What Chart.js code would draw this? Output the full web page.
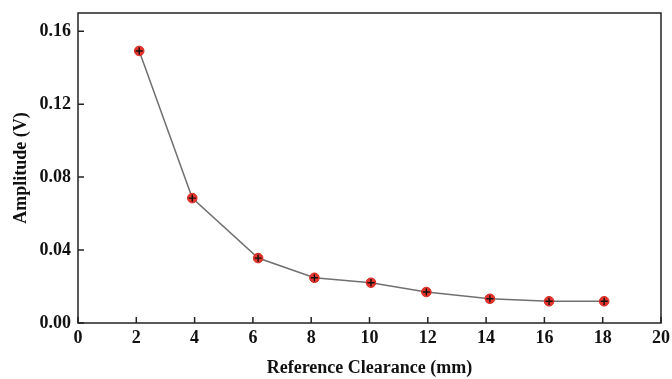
<!DOCTYPE html>
<html><head><meta charset="utf-8">
<script src="https://cdn.jsdelivr.net/npm/chart.js@4/dist/chart.umd.min.js"></script>
<style>html,body{margin:0;padding:0;background:#fff}#wrap{width:672px;height:379px}</style>
</head><body><div id="wrap"><canvas id="c" width="672" height="379"></canvas></div>
<script>
const clearance = [2.1, 3.92, 6.18, 8.11, 10.05, 11.95, 14.13, 16.16, 18.05];
const amplitude = [0.1492, 0.0685, 0.0356, 0.0248, 0.0221, 0.0170, 0.0133, 0.0119, 0.0119];
const xTicks = [0, 2, 4, 6, 8, 10, 12, 14, 16, 18, 20];
const yTicks = [0.00, 0.04, 0.08, 0.12, 0.16];

const pts = clearance.map((x, i) => ({x: x, y: amplitude[i]}));
const font = {family: '"Liberation Serif", "Times New Roman", serif', weight: 'bold', size: 18};

const frame = {
  id: 'frame',
  afterDraw(chart) {
    const {ctx, chartArea: a, scales} = chart;
    ctx.save();
    ctx.strokeStyle = '#222';
    ctx.lineWidth = 1.5;
    ctx.strokeRect(a.left, a.top, a.right - a.left, a.bottom - a.top);
    ctx.beginPath();
    xTicks.forEach(v => { const px = scales.x.getPixelForValue(v); ctx.moveTo(px, a.bottom); ctx.lineTo(px, a.bottom - 6); });
    yTicks.forEach(v => { const py = scales.y.getPixelForValue(v); ctx.moveTo(a.left, py); ctx.lineTo(a.left + 6, py); });
    ctx.stroke();
    ctx.restore();
  }
};

new Chart(document.getElementById('c'), {
  type: 'scatter',
  data: {datasets: [
    {data: pts, order: 1, showLine: true, borderColor: '#707070', borderWidth: 1.5,
     pointStyle: 'circle', pointRadius: 4.8, pointBackgroundColor: '#e8352c', pointBorderColor: '#d42a22', pointBorderWidth: 1},
    {data: pts, order: 0, showLine: false, pointStyle: 'cross', pointRadius: 3.6, pointBorderColor: '#111', pointBorderWidth: 1.4}
  ]},
  plugins: [frame],
  options: {
    responsive: false, animation: false,
    layout: {padding: {top: 13, right: 11, left: 0, bottom: 0}},
    plugins: {legend: {display: false}, tooltip: {enabled: false}},
    scales: {
      x: {type: 'linear', min: 0, max: 20,
        afterBuildTicks: s => { s.ticks = xTicks.map(v => ({value: v})); },
        afterFit: s => { s.height = 56; s.paddingLeft = 0; s.paddingRight = 0; },
        grid: {display: true, drawOnChartArea: false, drawTicks: false},
        border: {display: false},
        ticks: {color: '#111', font: font, padding: 5, maxRotation: 0, autoSkip: false, callback: v => String(v)},
        title: {display: true, text: 'Reference Clearance (mm)', color: '#111', font: font, padding: {top: 2, bottom: 0}}
      },
      y: {type: 'linear', min: 0, max: 0.17,
        afterBuildTicks: s => { s.ticks = yTicks.map(v => ({value: v})); },
        afterFit: s => { s.width = 78; s.paddingTop = 0; s.paddingBottom = 0; },
        grid: {display: true, drawOnChartArea: false, drawTicks: false},
        border: {display: false},
        ticks: {color: '#111', font: font, padding: 7, autoSkip: false, callback: v => v.toFixed(2)},
        title: {display: true, text: 'Amplitude (V)', color: '#111', font: font, padding: {top: 11, bottom: 2}}
      }
    }
  }
});
</script>
</body></html>
